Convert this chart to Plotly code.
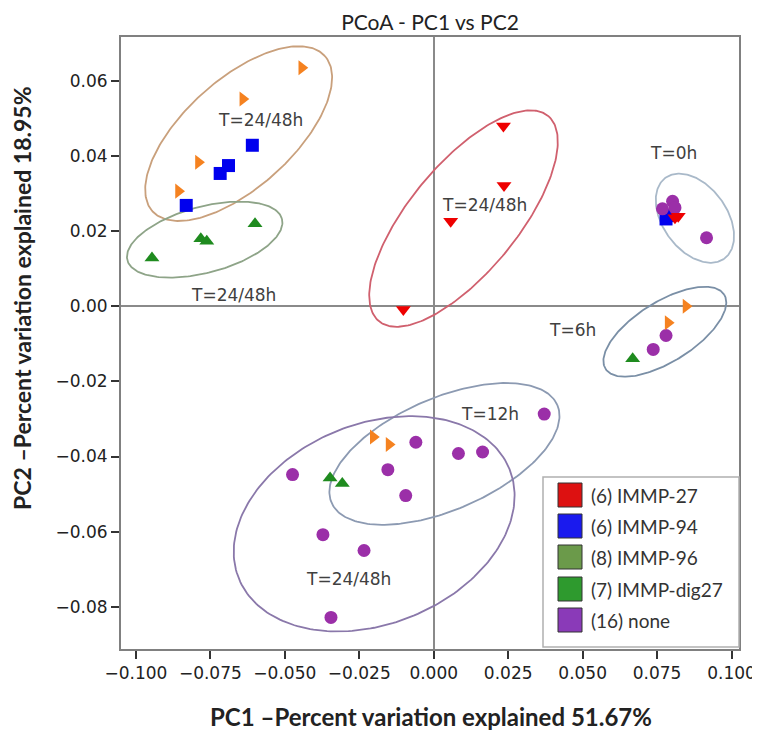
import numpy as np
import plotly.graph_objects as go

# ---------------- data ----------------
groups = ["(6) IMMP-27", "(6) IMMP-94", "(8) IMMP-96", "(7) IMMP-dig27", "(16) none"]

imm27_x = [0.0234, 0.0236, 0.0057, -0.0102, 0.0810, 0.0821]
imm27_y = [0.0479, 0.0321, 0.0226, -0.0009, 0.0235, 0.0239]

imm94_x = [-0.0609, -0.0689, -0.0717, -0.0831, 0.0780, 0.0793]
imm94_y = [0.0428, 0.0374, 0.0353, 0.0268, 0.0232, 0.0241]

imm96_x = [-0.0443, -0.0641, -0.0790, -0.0857, 0.0847, 0.0787, -0.0203, -0.0150]
imm96_y = [0.0634, 0.0551, 0.0383, 0.0306, 0.0000, -0.0044, -0.0348, -0.0368]

dig27_x = [-0.0600, -0.0782, -0.0762, -0.0946, 0.0668, -0.0348, -0.0307]
dig27_y = [0.0219, 0.0179, 0.0173, 0.0128, -0.0140, -0.0457, -0.0472]

none_x = [0.0916, 0.0802, 0.0768, 0.0810, 0.0780, 0.0737, 0.0371, -0.0060, 0.0083,
          0.0164, -0.0154, -0.0094, -0.0474, -0.0372, -0.0234, -0.0345]
none_y = [0.0182, 0.0279, 0.0259, 0.0262, -0.0078, -0.0115, -0.0287, -0.0362, -0.0392,
          -0.0388, -0.0435, -0.0504, -0.0448, -0.0608, -0.0650, -0.0828]

# cluster labels
label_text = ["T=24/48h", "T=24/48h", "T=24/48h", "T=0h", "T=6h", "T=12h", "T=24/48h"]
label_x = [-0.0580, -0.0673, 0.0169, 0.0804, 0.0465, 0.0189, -0.0287]
label_y = [0.0495, 0.0031, 0.0270, 0.0408, -0.0064, -0.0287, -0.0727]

# ellipse centres (data units)
ell_cx = [-0.0655, -0.0769, 0.0100, 0.0877, 0.0776, 0.0036, -0.0200]
ell_cy = [0.0459, 0.0177, 0.0233, 0.0234, -0.0068, -0.0393, -0.0579]

x_ticks = [-0.100, -0.075, -0.050, -0.025, 0.000, 0.025, 0.050, 0.075, 0.100]
y_ticks = [-0.08, -0.06, -0.04, -0.02, 0.00, 0.02, 0.04, 0.06]

# ---------------- layout constants ----------------
# the page body has an 8px margin, so the figure is shrunk and shifted by it
OFF = 8
PAGE_W, PAGE_H = 760, 736
W, H = PAGE_W - OFF, PAGE_H - OFF
# plot area in page pixels: x 121..739, y 37..649
ML, MR, MT, MB = 121 - OFF, PAGE_W - 739, 37 - OFF, PAGE_H - 649
XR = [-0.1050, 0.1025]
YR = [-0.0912, 0.0716]
PW, PH = W - ML - MR, H - MT - MB
SX = PW / (XR[1] - XR[0])
SY = PH / (YR[1] - YR[0])


def px_x(px):
    """page pixel x -> paper fraction"""
    return (px - OFF - ML) / PW


def px_y(py):
    """page pixel y -> paper fraction"""
    return (H - MB - (py - OFF)) / PH


# ellipse shapes: semi-axes (px), angle (deg), colour
ell_a = [116, 80, 133, 50, 70, 123, 146]
ell_b = [54, 33, 54, 32, 30, 56, 100]
ell_ang = [42, 15, 50.5, -54, 32, 23.4, 22]
ell_col = ["#c9a07c", "#8ea488", "#d0606e", "#a9b9c9", "#7a8fa6", "#8c9ab2", "#8a78aa"]

marker_col = ["#ee0000", "#0000ee", "#f58220", "#1f8b1f", "#9b2fa8"]
marker_sym = ["triangle-down", "square", "triangle-right", "triangle-up", "circle"]
legend_col = ["#dd1111", "#1a1aee", "#6b9a4a", "#2e9a2e", "#8a3ab8"]

fig = go.Figure()

t = np.linspace(0, 2 * np.pi, 240)
for cx, cy, a, b, ang, col in zip(ell_cx, ell_cy, ell_a, ell_b, ell_ang, ell_col):
    phi = np.radians(ang)
    u, v = a * np.cos(t), b * np.sin(t)
    dx = u * np.cos(phi) - v * np.sin(phi)
    dy = u * np.sin(phi) + v * np.cos(phi)
    fig.add_trace(go.Scatter(x=cx + dx / SX, y=cy + dy / SY, mode="lines",
                             line=dict(color=col, width=1.8), hoverinfo="skip",
                             showlegend=False))

series = [
    (imm94_x, imm94_y, 1),
    (none_x, none_y, 4),
    (imm27_x, imm27_y, 0),
    (imm96_x, imm96_y, 2),
    (dig27_x, dig27_y, 3),
]
for xs, ys, i in series:
    fig.add_trace(go.Scatter(x=xs, y=ys, mode="markers", name=groups[i],
                             marker=dict(symbol=marker_sym[i], color=marker_col[i],
                                         size=13, line=dict(width=0)),
                             showlegend=False))

for txt, lx, ly in zip(label_text, label_x, label_y):
    fig.add_annotation(x=lx, y=ly, text=txt, showarrow=False,
                       font=dict(family="DejaVu Sans", size=17, color="#404040"))

# manual legend (square patches)
shapes = [dict(type="rect", xref="paper", yref="paper",
               x0=px_x(543), x1=px_x(739), y0=px_y(647), y1=px_y(477),
               line=dict(color="#b0b0b0", width=1.5), fillcolor="white", layer="above")]
row_y = [495, 526, 557, 589, 620]
for i, ry in enumerate(row_y):
    shapes.append(dict(type="rect", xref="paper", yref="paper",
                       x0=px_x(558), x1=px_x(582), y0=px_y(ry + 12), y1=px_y(ry - 12),
                       line=dict(color="#333333", width=1), fillcolor=legend_col[i],
                       layer="above"))
    fig.add_annotation(xref="paper", yref="paper", x=px_x(589), y=px_y(ry),
                       xanchor="left", yanchor="middle", text=groups[i], showarrow=False,
                       font=dict(family="Lato", size=19, color="#333333"))

# axis titles
fig.add_annotation(xref="paper", yref="paper", x=px_x(431), y=px_y(716),
                   text="<b>PC1 \u2013Percent variation explained 51.67%</b>",
                   showarrow=False, xanchor="center", yanchor="middle",
                   font=dict(family="Lato", size=24, color="#222222"))
fig.add_annotation(xref="paper", yref="paper", x=px_x(22), y=px_y(298),
                   text="<b>PC2 \u2013Percent variation explained 18.95%</b>",
                   showarrow=False, textangle=-90, xanchor="center", yanchor="middle",
                   font=dict(family="Lato", size=23, color="#222222"))

axis_common = dict(showgrid=False, zeroline=True, zerolinecolor="#8a8a8a", zerolinewidth=2,
                   showline=True, linecolor="#808080", linewidth=2, mirror=True,
                   ticks="outside", ticklen=8, tickwidth=2, tickcolor="#333333",
                   automargin=False,
                   tickfont=dict(family="DejaVu Sans", size=17, color="#222222"))

fig.update_layout(
    width=W, height=H,
    margin=dict(l=ML, r=MR, t=MT, b=MB, autoexpand=False),
    paper_bgcolor="white", plot_bgcolor="white",
    title=dict(text="PCoA - PC1 vs PC2", x=px_x(430), xref="paper", xanchor="center",
               y=1 - (23 - OFF) / H, yref="container", yanchor="middle",
               font=dict(family="Lato", size=21, color="#222222")),
    xaxis=dict(range=XR, tickvals=x_ticks, tickformat=".3f", **axis_common),
    yaxis=dict(range=YR, tickvals=y_ticks, tickformat=".2f", **axis_common),
    shapes=shapes,
    showlegend=False,
)

fig.write_html("out.html")
